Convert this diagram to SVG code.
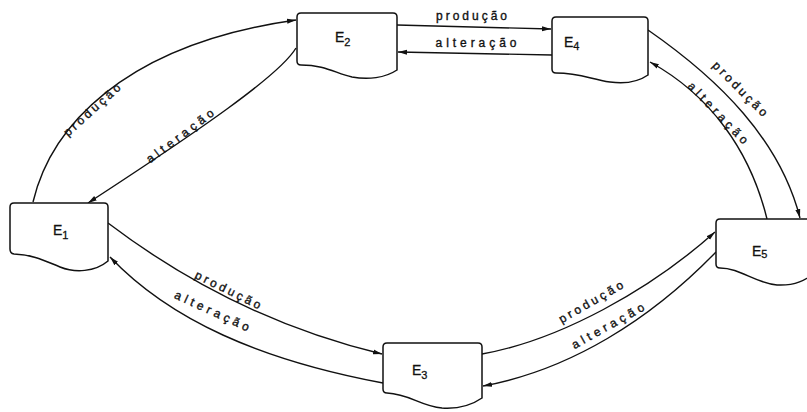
<svg xmlns="http://www.w3.org/2000/svg" width="807" height="412" viewBox="0 0 807 412">
  <style>
    .node { fill: #fff; stroke: #111; stroke-width: 1.5; }
    .edge { fill: none; stroke: #111; stroke-width: 1.4; marker-end: url(#arrow); }
    .name { font-family: "Liberation Sans", "DejaVu Sans", sans-serif; font-size: 14px; fill: #111; stroke: #111; stroke-width: 0.3; }
    .sub { font-size: 11px; }
    .lbl { font-family: "Liberation Sans", "DejaVu Sans", sans-serif; font-size: 12px; fill: #111; stroke: #111; stroke-width: 0.35; text-anchor: middle; }
  </style>
  <defs>
    <marker id="arrow" markerUnits="userSpaceOnUse" markerWidth="10" markerHeight="6" refX="9" refY="3" orient="auto">
      <path d="M0,0.5 L9,3 L0,5.5 Z" fill="#111"/>
    </marker>
  </defs>
  <rect width="807" height="412" fill="#fff"/>

  <!-- connectors -->
  <g id="connectors">
    <path class="edge" d="M33,202 C 50,130 120,45 296,20"/>
    <path class="edge" d="M296,48 C 280,75 200,130 88,203"/>
    <path class="edge" d="M397,25 L551,29"/>
    <path class="edge" d="M552,55 L398,52"/>
    <path class="edge" d="M648,30 C 720,80 780,140 800,218"/>
    <path class="edge" d="M767,219 C 750,150 710,95 650,62"/>
    <path class="edge" d="M108,223 C 170,270 260,325 382,354"/>
    <path class="edge" d="M383,383 C 260,360 170,320 110,257"/>
    <path class="edge" d="M482,354 C 560,340 650,290 715,232"/>
    <path class="edge" d="M716,252 C 650,320 570,370 483,386"/>
  </g>

  <!-- connector labels -->
  <g id="labels">
    <text class="lbl" textLength="72" lengthAdjust="spacing" transform="translate(92,110) rotate(-42)" y="4">produção</text>
    <text class="lbl" textLength="81" lengthAdjust="spacing" transform="translate(180,136) rotate(-37)" y="4">alteração</text>
    <text class="lbl" textLength="71" lengthAdjust="spacing" x="471.5" y="20">produção</text>
    <text class="lbl" textLength="81" lengthAdjust="spacing" x="476" y="47">alteração</text>
    <text class="lbl" textLength="72" lengthAdjust="spacing" transform="translate(740,89) rotate(45)" y="4">produção</text>
    <text class="lbl" textLength="81" lengthAdjust="spacing" transform="translate(718,113) rotate(46)" y="4">alteração</text>
    <text class="lbl" textLength="72" lengthAdjust="spacing" transform="translate(228,290) rotate(26)" y="4">produção</text>
    <text class="lbl" textLength="81" lengthAdjust="spacing" transform="translate(212,311) rotate(24.5)" y="4">alteração</text>
    <text class="lbl" textLength="72" lengthAdjust="spacing" transform="translate(591,302) rotate(-30)" y="4">produção</text>
    <text class="lbl" textLength="81" lengthAdjust="spacing" transform="translate(608,326) rotate(-29)" y="4">alteração</text>
  </g>

  <!-- states -->
  <g id="E1">
    <path class="node" d="M14,203 H104 Q108,203 108,207 V261 C 95,272 75,273 60,267 C 45,261 35,255 14,254 Q10,253.5 10,249 V207 Q10,203 14,203 Z"/>
    <text class="name" x="53" y="235">E<tspan class="sub" dy="4">1</tspan></text>
  </g>
  <g id="E2">
    <path class="node" d="M301,13 H393 Q397,13 397,17 V70 C 385,78 368,80 352,77 C 335,73 325,65 301,65 Q297,65 297,61 V17 Q297,13 301,13 Z"/>
    <text class="name" x="335" y="42">E<tspan class="sub" dy="4">2</tspan></text>
  </g>
  <g id="E4">
    <path class="node" d="M556,17 H644 Q648,17 648,21 V75 C 638,82 625,84 610,82 C 590,79 580,73 556,73 Q552,73 552,69 V21 Q552,17 556,17 Z"/>
    <text class="name" x="564" y="47">E<tspan class="sub" dy="3">4</tspan></text>
  </g>
  <g id="E3">
    <path class="node" d="M387,343 H478 Q482,343 482,347 V398 C 472,405 458,409 442,408 C 420,406 410,394 387,393 Q383,393 383,389 V347 Q383,343 387,343 Z"/>
    <text class="name" x="412" y="375">E<tspan class="sub" dy="4">3</tspan></text>
  </g>
  <g id="E5">
    <path class="node" d="M720,219 H812 Q816,219 816,223 V272 C 806,280 795,286 777,285 C 755,283 740,268 720,268 Q716,268 716,264 V223 Q716,219 720,219 Z"/>
    <text class="name" x="752" y="256">E<tspan class="sub" dy="2">5</tspan></text>
  </g>
</svg>
